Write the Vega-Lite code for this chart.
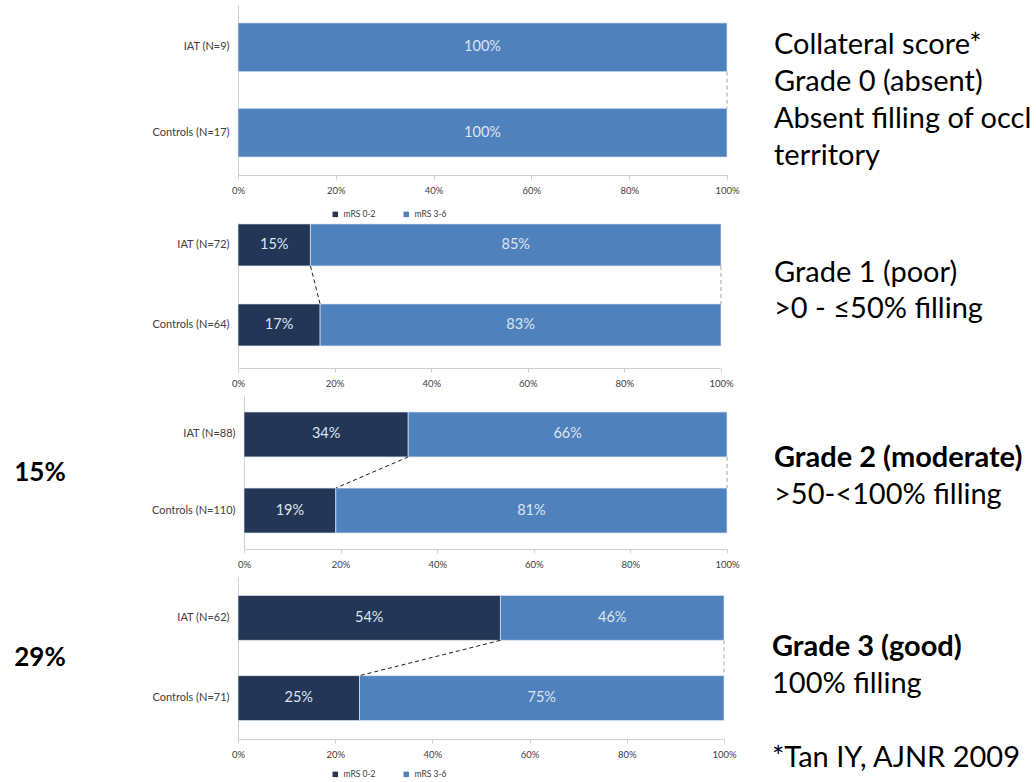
{
  "$schema": "https://vega.github.io/schema/vega-lite/v6.json",
  "background": "#ffffff",
  "padding": 5,
  "config": {
    "view": {"stroke": null},
    "font": "Lato",
    "axis": {
      "domainColor": "#d0d0d0",
      "tickColor": "#d0d0d0",
      "labelColor": "#404040",
      "labelFont": "Lato",
      "grid": false,
      "title": null
    },
    "legend": {"labelFont": "Lato", "labelColor": "#404040"}
  },
  "datasets": {
    "bars": [
      {"grade": "Grade 0", "cohort": "IAT (N=9)", "outcome": "mRS 3-6", "share": 1.00},
      {"grade": "Grade 0", "cohort": "Controls (N=17)", "outcome": "mRS 3-6", "share": 1.00},
      {"grade": "Grade 1", "cohort": "IAT (N=72)", "outcome": "mRS 0-2", "share": 0.15},
      {"grade": "Grade 1", "cohort": "IAT (N=72)", "outcome": "mRS 3-6", "share": 0.85},
      {"grade": "Grade 1", "cohort": "Controls (N=64)", "outcome": "mRS 0-2", "share": 0.17},
      {"grade": "Grade 1", "cohort": "Controls (N=64)", "outcome": "mRS 3-6", "share": 0.83},
      {"grade": "Grade 2", "cohort": "IAT (N=88)", "outcome": "mRS 0-2", "share": 0.34},
      {"grade": "Grade 2", "cohort": "IAT (N=88)", "outcome": "mRS 3-6", "share": 0.66},
      {"grade": "Grade 2", "cohort": "Controls (N=110)", "outcome": "mRS 0-2", "share": 0.19},
      {"grade": "Grade 2", "cohort": "Controls (N=110)", "outcome": "mRS 3-6", "share": 0.81},
      {"grade": "Grade 3", "cohort": "IAT (N=62)", "outcome": "mRS 0-2", "share": 0.54},
      {"grade": "Grade 3", "cohort": "IAT (N=62)", "outcome": "mRS 3-6", "share": 0.46},
      {"grade": "Grade 3", "cohort": "Controls (N=71)", "outcome": "mRS 0-2", "share": 0.25},
      {"grade": "Grade 3", "cohort": "Controls (N=71)", "outcome": "mRS 3-6", "share": 0.75}
    ],
    "links": [
      {"grade": "Grade 0", "kind": "total", "upper": "IAT (N=9)", "lower": "Controls (N=17)", "upper_at": 1.00, "lower_at": 1.00},
      {"grade": "Grade 1", "kind": "split", "upper": "IAT (N=72)", "lower": "Controls (N=64)", "upper_at": 0.15, "lower_at": 0.17},
      {"grade": "Grade 1", "kind": "total", "upper": "IAT (N=72)", "lower": "Controls (N=64)", "upper_at": 1.00, "lower_at": 1.00},
      {"grade": "Grade 2", "kind": "split", "upper": "IAT (N=88)", "lower": "Controls (N=110)", "upper_at": 0.34, "lower_at": 0.19},
      {"grade": "Grade 2", "kind": "total", "upper": "IAT (N=88)", "lower": "Controls (N=110)", "upper_at": 1.00, "lower_at": 1.00},
      {"grade": "Grade 3", "kind": "split", "upper": "IAT (N=62)", "lower": "Controls (N=71)", "upper_at": 0.54, "lower_at": 0.25},
      {"grade": "Grade 3", "kind": "total", "upper": "IAT (N=62)", "lower": "Controls (N=71)", "upper_at": 1.00, "lower_at": 1.00}
    ],
    "notes": [
      {"grade": "Grade 0", "side": "right", "role": "body", "line": 0, "text": "Collateral score*"},
      {"grade": "Grade 0", "side": "right", "role": "body", "line": 1, "text": "Grade 0 (absent)"},
      {"grade": "Grade 0", "side": "right", "role": "body", "line": 2, "text": "Absent filling of occl"},
      {"grade": "Grade 0", "side": "right", "role": "body", "line": 3, "text": "territory"},
      {"grade": "Grade 1", "side": "right", "role": "body", "line": 0, "text": "Grade 1 (poor)"},
      {"grade": "Grade 1", "side": "right", "role": "body", "line": 1, "text": ">0 - ≤50% filling"},
      {"grade": "Grade 2", "side": "right", "role": "heading", "line": 0, "text": "Grade 2 (moderate)"},
      {"grade": "Grade 2", "side": "right", "role": "body", "line": 1, "text": ">50-<100% filling"},
      {"grade": "Grade 3", "side": "right", "role": "heading", "line": 0, "text": "Grade 3 (good)"},
      {"grade": "Grade 3", "side": "right", "role": "body", "line": 1, "text": "100% filling"},
      {"grade": "Grade 3", "side": "right", "role": "body", "line": 3, "text": "*Tan IY, AJNR 2009"},
      {"grade": "Grade 2", "side": "left", "role": "heading", "line": 0, "text": "15%"},
      {"grade": "Grade 3", "side": "left", "role": "heading", "line": 0, "text": "29%"}
    ]
  },
  "resolve": {"legend": {"color": "independent"}},
  "spacing": 3,
  "vconcat": [
    {
      "resolve": {"legend": {"color": "independent"}},
      "spacing": 76,
      "hconcat": [
        {
          "width": 70, "height": 170,
          "data": {"name": "notes"},
          "transform": [{"filter": "datum.grade == 'Grade 0' && datum.side == 'left'"}],
          "mark": {"type": "text", "align": "center", "baseline": "middle", "fontSize": 26, "fontWeight": "bold", "color": "#000000"},
          "encoding": {"text": {"field": "text"}}
        },
        {
          "resolve": {"legend": {"color": "independent"}},
          "spacing": 33,
          "hconcat": [
            {
              "width": 489, "height": 170,
              "layer": [
                {
                  "data": {"name": "bars"},
                  "transform": [
                    {"filter": "datum.grade == 'Grade 0'"},
                    {"stack": "share", "groupby": ["cohort"], "sort": [{"field": "outcome"}], "as": ["start", "end"]},
                    {"calculate": "(datum.start + datum.end) / 2", "as": "mid"}
                  ],
                  "layer": [
                    {
                      "mark": {"type": "bar", "stroke": "#dce6f2", "strokeWidth": 0.7},
                      "encoding": {
                        "y": {"field": "cohort", "type": "nominal",
                              "scale": {"domain": ["IAT (N=9)", "Controls (N=17)"], "paddingInner": 0.43, "paddingOuter": 0.21},
                              "axis": {"ticks": false, "labelFontSize": 11, "labelPadding": 9}},
                        "x": {"field": "start", "type": "quantitative",
                              "scale": {"domain": [0, 1], "nice": false},
                              "axis": {"format": ".0%", "values": [0, 0.2, 0.4, 0.6, 0.8, 1], "labelFlush": false, "tickSize": 4, "labelFontSize": 9.5, "labelPadding": 6}},
                        "x2": {"field": "end"},
                        "color": {"field": "outcome", "type": "nominal",
                                  "scale": {"domain": ["mRS 0-2", "mRS 3-6"], "range": ["#233656", "#4f81bd"]},
                                  "legend": {"orient": "none", "legendX": 93, "legendY": 205, "direction": "horizontal", "title": null, "symbolType": "square", "symbolSize": 30, "symbolStrokeWidth": 0, "labelFontSize": 8.5, "columnPadding": 26}}
                      }
                    },
                    {
                      "mark": {"type": "text", "align": "center", "baseline": "middle", "fontSize": 14.5, "color": "#dce6f2"},
                      "encoding": {
                        "y": {"field": "cohort", "type": "nominal"},
                        "x": {"field": "mid", "type": "quantitative"},
                        "text": {"field": "share", "format": ".0%"}
                      }
                    }
                  ]
                },
                {
                  "data": {"name": "links"},
                  "transform": [{"filter": "datum.grade == 'Grade 0' && datum.kind == 'total'"}],
                  "mark": {"type": "rule", "strokeDash": [4, 3], "color": "#a6a6a6", "strokeWidth": 1},
                  "encoding": {
                    "y": {"field": "upper", "type": "nominal", "bandPosition": 1},
                    "y2": {"field": "lower", "bandPosition": 0},
                    "x": {"field": "upper_at", "type": "quantitative"},
                    "x2": {"field": "lower_at"}
                  }
                }
              ]
            },
            {
              "width": 2, "height": 170,
              "data": {"name": "notes"},
              "transform": [{"filter": "datum.grade == 'Grade 0' && datum.side == 'right'"}],
              "mark": {"type": "text", "align": "left", "baseline": "middle", "fontSize": 29, "color": "#000000"},
              "encoding": {
                "y": {"field": "line", "type": "quantitative", "axis": null,
                      "scale": {"domain": [-1.081, 3.514], "reverse": true, "nice": false, "zero": false}},
                "text": {"field": "text"}
              }
            }
          ]
        }
      ]
    },
    {
      "resolve": {"legend": {"color": "independent"}},
      "spacing": 8,
      "vconcat": [
        {
          "resolve": {"legend": {"color": "independent"}},
          "spacing": 76,
          "hconcat": [
            {
              "width": 70, "height": 146,
              "data": {"name": "notes"},
              "transform": [{"filter": "datum.grade == 'Grade 1' && datum.side == 'left'"}],
              "mark": {"type": "text", "align": "center", "baseline": "middle", "fontSize": 26, "fontWeight": "bold", "color": "#000000"},
              "encoding": {"text": {"field": "text"}}
            },
            {
              "resolve": {"legend": {"color": "independent"}},
              "spacing": 39,
              "hconcat": [
                {
                  "width": 483, "height": 146,
                  "layer": [
                    {
                      "data": {"name": "bars"},
                      "transform": [
                        {"filter": "datum.grade == 'Grade 1'"},
                        {"stack": "share", "groupby": ["cohort"], "sort": [{"field": "outcome"}], "as": ["start", "end"]},
                        {"calculate": "(datum.start + datum.end) / 2", "as": "mid"}
                      ],
                      "layer": [
                        {
                          "mark": {"type": "bar", "stroke": "#dce6f2", "strokeWidth": 0.7},
                          "encoding": {
                            "y": {"field": "cohort", "type": "nominal",
                                  "scale": {"domain": ["IAT (N=72)", "Controls (N=64)"], "paddingInner": 0.475, "paddingOuter": 0.15, "align": 0.08},
                                  "axis": {"ticks": false, "labelFontSize": 11, "labelPadding": 9}},
                            "x": {"field": "start", "type": "quantitative",
                                  "scale": {"domain": [0, 1], "nice": false},
                                  "axis": {"format": ".0%", "values": [0, 0.2, 0.4, 0.6, 0.8, 1], "labelFlush": false, "tickSize": 4, "labelFontSize": 9.5, "labelPadding": 6}},
                            "x2": {"field": "end"},
                            "color": {"field": "outcome", "type": "nominal",
                                      "scale": {"domain": ["mRS 0-2", "mRS 3-6"], "range": ["#233656", "#4f81bd"]},
                                      "legend": null}
                          }
                        },
                        {
                          "mark": {"type": "text", "align": "center", "baseline": "middle", "fontSize": 14.5, "color": "#dce6f2"},
                          "encoding": {
                            "y": {"field": "cohort", "type": "nominal"},
                            "x": {"field": "mid", "type": "quantitative"},
                            "text": {"field": "share", "format": ".0%"}
                          }
                        }
                      ]
                    },
                    {
                      "data": {"name": "links"},
                      "transform": [{"filter": "datum.grade == 'Grade 1' && datum.kind == 'split'"}],
                      "mark": {"type": "rule", "strokeDash": [4, 3], "color": "#1a1a1a", "strokeWidth": 1},
                      "encoding": {
                        "y": {"field": "upper", "type": "nominal", "bandPosition": 1},
                        "y2": {"field": "lower", "bandPosition": 0},
                        "x": {"field": "upper_at", "type": "quantitative"},
                        "x2": {"field": "lower_at"}
                      }
                    },
                    {
                      "data": {"name": "links"},
                      "transform": [{"filter": "datum.grade == 'Grade 1' && datum.kind == 'total'"}],
                      "mark": {"type": "rule", "strokeDash": [4, 3], "color": "#a6a6a6", "strokeWidth": 1},
                      "encoding": {
                        "y": {"field": "upper", "type": "nominal", "bandPosition": 1},
                        "y2": {"field": "lower", "bandPosition": 0},
                        "x": {"field": "upper_at", "type": "quantitative"},
                        "x2": {"field": "lower_at"}
                      }
                    }
                  ]
                },
                {
                  "width": 2, "height": 146,
                  "data": {"name": "notes"},
                  "transform": [{"filter": "datum.grade == 'Grade 1' && datum.side == 'right'"}],
                  "mark": {"type": "text", "align": "left", "baseline": "middle", "fontSize": 29, "color": "#000000"},
                  "encoding": {
                    "y": {"field": "line", "type": "quantitative", "axis": null,
                          "scale": {"domain": [-1.417, 2.639], "reverse": true, "nice": false, "zero": false}},
                    "text": {"field": "text"}
                  }
                }
              ]
            }
          ]
        },
        {
          "resolve": {"legend": {"color": "independent"}},
          "spacing": 76,
          "hconcat": [
            {
              "width": 70, "height": 153,
              "data": {"name": "notes"},
              "transform": [{"filter": "datum.grade == 'Grade 2' && datum.side == 'left'"}],
              "mark": {"type": "text", "align": "center", "baseline": "middle", "fontSize": 26, "fontWeight": "bold", "color": "#000000"},
              "encoding": {"text": {"field": "text"}}
            },
            {
              "resolve": {"legend": {"color": "independent"}},
              "spacing": 33,
              "hconcat": [
                {
                  "width": 483, "height": 153,
                  "layer": [
                    {
                      "data": {"name": "bars"},
                      "transform": [
                        {"filter": "datum.grade == 'Grade 2'"},
                        {"stack": "share", "groupby": ["cohort"], "sort": [{"field": "outcome"}], "as": ["start", "end"]},
                        {"calculate": "(datum.start + datum.end) / 2", "as": "mid"}
                      ],
                      "layer": [
                        {
                          "mark": {"type": "bar", "stroke": "#dce6f2", "strokeWidth": 0.7},
                          "encoding": {
                            "y": {"field": "cohort", "type": "nominal",
                                  "scale": {"domain": ["IAT (N=88)", "Controls (N=110)"], "paddingInner": 0.41, "paddingOuter": 0.21},
                                  "axis": {"ticks": false, "labelFontSize": 11, "labelPadding": 9}},
                            "x": {"field": "start", "type": "quantitative",
                                  "scale": {"domain": [0, 1], "nice": false},
                                  "axis": {"format": ".0%", "values": [0, 0.2, 0.4, 0.6, 0.8, 1], "labelFlush": false, "tickSize": 4, "labelFontSize": 9.5, "labelPadding": 6}},
                            "x2": {"field": "end"},
                            "color": {"field": "outcome", "type": "nominal",
                                      "scale": {"domain": ["mRS 0-2", "mRS 3-6"], "range": ["#233656", "#4f81bd"]},
                                      "legend": null}
                          }
                        },
                        {
                          "mark": {"type": "text", "align": "center", "baseline": "middle", "fontSize": 14.5, "color": "#dce6f2"},
                          "encoding": {
                            "y": {"field": "cohort", "type": "nominal"},
                            "x": {"field": "mid", "type": "quantitative"},
                            "text": {"field": "share", "format": ".0%"}
                          }
                        }
                      ]
                    },
                    {
                      "data": {"name": "links"},
                      "transform": [{"filter": "datum.grade == 'Grade 2' && datum.kind == 'split'"}],
                      "mark": {"type": "rule", "strokeDash": [4, 3], "color": "#1a1a1a", "strokeWidth": 1},
                      "encoding": {
                        "y": {"field": "upper", "type": "nominal", "bandPosition": 1},
                        "y2": {"field": "lower", "bandPosition": 0},
                        "x": {"field": "upper_at", "type": "quantitative"},
                        "x2": {"field": "lower_at"}
                      }
                    },
                    {
                      "data": {"name": "links"},
                      "transform": [{"filter": "datum.grade == 'Grade 2' && datum.kind == 'total'"}],
                      "mark": {"type": "rule", "strokeDash": [4, 3], "color": "#a6a6a6", "strokeWidth": 1},
                      "encoding": {
                        "y": {"field": "upper", "type": "nominal", "bandPosition": 1},
                        "y2": {"field": "lower", "bandPosition": 0},
                        "x": {"field": "upper_at", "type": "quantitative"},
                        "x2": {"field": "lower_at"}
                      }
                    }
                  ]
                },
                {
                  "width": 2, "height": 153,
                  "data": {"name": "notes"},
                  "transform": [
                    {"filter": "datum.grade == 'Grade 2' && datum.side == 'right'"}
                  ],
                  "layer": [
                    {
                      "transform": [{"filter": "datum.role == 'heading'"}],
                      "mark": {"type": "text", "align": "left", "baseline": "middle", "fontSize": 29, "fontWeight": "bold", "color": "#000000"},
                      "encoding": {
                        "y": {"field": "line", "type": "quantitative", "axis": null,
                              "scale": {"domain": [-1.676, 2.459], "reverse": true, "nice": false, "zero": false}},
                        "text": {"field": "text"}
                      }
                    },
                    {
                      "transform": [{"filter": "datum.role == 'body'"}],
                      "mark": {"type": "text", "align": "left", "baseline": "middle", "fontSize": 29, "color": "#000000"},
                      "encoding": {
                        "y": {"field": "line", "type": "quantitative", "axis": null},
                        "text": {"field": "text"}
                      }
                    }
                  ]
                }
              ]
            }
          ]
        },
        {
          "resolve": {"legend": {"color": "independent"}},
          "spacing": 76,
          "hconcat": [
            {
              "width": 70, "height": 162,
              "data": {"name": "notes"},
              "transform": [{"filter": "datum.grade == 'Grade 3' && datum.side == 'left'"}],
              "mark": {"type": "text", "align": "center", "baseline": "middle", "fontSize": 26, "fontWeight": "bold", "color": "#000000"},
              "encoding": {"text": {"field": "text"}}
            },
            {
              "resolve": {"legend": {"color": "independent"}},
              "spacing": 34,
              "hconcat": [
                {
                  "width": 486, "height": 162,
                  "layer": [
                    {
                      "data": {"name": "bars"},
                      "transform": [
                        {"filter": "datum.grade == 'Grade 3'"},
                        {"stack": "share", "groupby": ["cohort"], "sort": [{"field": "outcome"}], "as": ["start", "end"]},
                        {"calculate": "(datum.start + datum.end) / 2", "as": "mid"}
                      ],
                      "layer": [
                        {
                          "mark": {"type": "bar", "stroke": "#dce6f2", "strokeWidth": 0.7},
                          "encoding": {
                            "y": {"field": "cohort", "type": "nominal",
                                  "scale": {"domain": ["IAT (N=62)", "Controls (N=71)"], "paddingInner": 0.44, "paddingOuter": 0.23},
                                  "axis": {"ticks": false, "labelFontSize": 11, "labelPadding": 9}},
                            "x": {"field": "start", "type": "quantitative",
                                  "scale": {"domain": [0, 1], "nice": false},
                                  "axis": {"format": ".0%", "values": [0, 0.2, 0.4, 0.6, 0.8, 1], "labelFlush": false, "tickSize": 4, "labelFontSize": 9.5, "labelPadding": 6}},
                            "x2": {"field": "end"},
                            "color": {"field": "outcome", "type": "nominal",
                                      "scale": {"domain": ["mRS 0-2", "mRS 3-6"], "range": ["#233656", "#4f81bd"]},
                                      "legend": {"orient": "none", "legendX": 93, "legendY": 193, "direction": "horizontal", "title": null, "symbolType": "square", "symbolSize": 30, "symbolStrokeWidth": 0, "labelFontSize": 8.5, "columnPadding": 26}}
                          }
                        },
                        {
                          "mark": {"type": "text", "align": "center", "baseline": "middle", "fontSize": 14.5, "color": "#dce6f2"},
                          "encoding": {
                            "y": {"field": "cohort", "type": "nominal"},
                            "x": {"field": "mid", "type": "quantitative"},
                            "text": {"field": "share", "format": ".0%"}
                          }
                        }
                      ]
                    },
                    {
                      "data": {"name": "links"},
                      "transform": [{"filter": "datum.grade == 'Grade 3' && datum.kind == 'split'"}],
                      "mark": {"type": "rule", "strokeDash": [4, 3], "color": "#1a1a1a", "strokeWidth": 1},
                      "encoding": {
                        "y": {"field": "upper", "type": "nominal", "bandPosition": 1},
                        "y2": {"field": "lower", "bandPosition": 0},
                        "x": {"field": "upper_at", "type": "quantitative"},
                        "x2": {"field": "lower_at"}
                      }
                    },
                    {
                      "data": {"name": "links"},
                      "transform": [{"filter": "datum.grade == 'Grade 3' && datum.kind == 'total'"}],
                      "mark": {"type": "rule", "strokeDash": [4, 3], "color": "#a6a6a6", "strokeWidth": 1},
                      "encoding": {
                        "y": {"field": "upper", "type": "nominal", "bandPosition": 1},
                        "y2": {"field": "lower", "bandPosition": 0},
                        "x": {"field": "upper_at", "type": "quantitative"},
                        "x2": {"field": "lower_at"}
                      }
                    }
                  ]
                },
                {
                  "width": 2, "height": 162,
                  "data": {"name": "notes"},
                  "transform": [
                    {"filter": "datum.grade == 'Grade 3' && datum.side == 'right'"}
                  ],
                  "layer": [
                    {
                      "transform": [{"filter": "datum.role == 'heading'"}],
                      "mark": {"type": "text", "align": "left", "baseline": "middle", "fontSize": 29, "fontWeight": "bold", "color": "#000000"},
                      "encoding": {
                        "y": {"field": "line", "type": "quantitative", "axis": null,
                              "scale": {"domain": [-1.892, 2.486], "reverse": true, "nice": false, "zero": false}},
                        "text": {"field": "text"}
                      }
                    },
                    {
                      "transform": [{"filter": "datum.role == 'body'"}],
                      "mark": {"type": "text", "align": "left", "baseline": "middle", "fontSize": 29, "color": "#000000"},
                      "encoding": {
                        "y": {"field": "line", "type": "quantitative", "axis": null},
                        "text": {"field": "text"}
                      }
                    }
                  ]
                }
              ]
            }
          ]
        }
      ]
    }
  ]
}
